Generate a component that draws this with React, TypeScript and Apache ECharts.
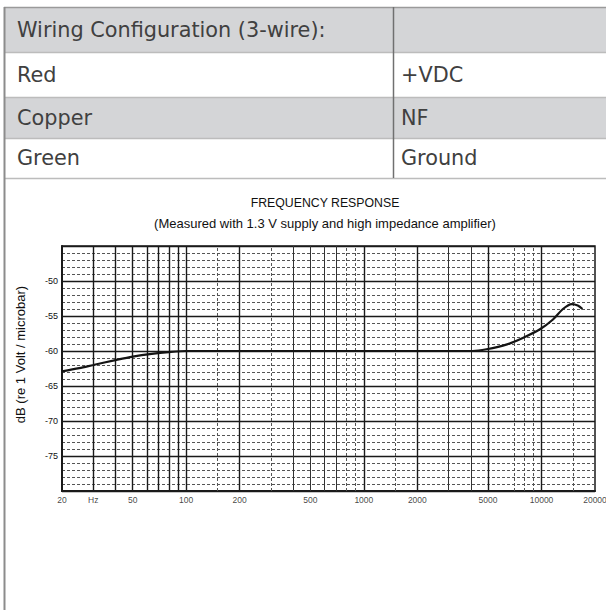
import React, { useEffect, useRef } from 'react';
import * as echarts from 'echarts';

// ---------- data ----------
const tableHeader = ['Wiring Configuration (3-wire):', ''];
const wireNames = ['Red', 'Copper', 'Green'];
const wireSignals = ['+VDC', 'NF', 'Ground'];

const chartTitle = 'FREQUENCY RESPONSE';
const chartSubtitle = '(Measured with 1.3 V supply and high impedance amplifier)';
const yAxisTitle = 'dB (re 1 Volt / microbar)';

const freqHz = [20, 25, 30, 40, 50, 64, 80, 100, 200, 500, 1000, 2000, 3000, 4100, 4900, 6400, 7900, 9800, 11600, 13200, 14800, 16000, 17000];
const responseDb = [-62.9, -62.45, -62.0, -61.3, -60.8, -60.4, -60.15, -60, -60, -60, -60, -60, -60, -60, -59.75, -59.05, -58.1, -56.9, -55.5, -54.0, -53.3, -53.5, -54.0];

const xTickValues = [20, 30, 50, 100, 200, 500, 1000, 2000, 5000, 10000, 20000];
const xTickLabels = ['20', 'Hz', '50', '100', '200', '500', '1000', '2000', '5000', '10000', '20000'];
const xMin = 20;
const xMax = 20000;
const yMin = -80;
const yMax = -45;
const yStep = 5;

const heavyGridHz = [30, 40, 50, 60, 70, 80, 90, 100, 200, 1000, 2000, 5000, 10000];
const solidGridHz = [400, 500, 600, 700, 3000, 4000];
const dashedGridHz = [150, 300, 800, 900, 1500, 7000, 8000, 9000, 15000];

// ---------- layout ----------
const W = 606;
const H = 610;
const TABLE = { left: 4, colX: 393, rowY: [7, 52, 97, 138, 178], textL: 17, textR: 401 };
const TABLE_FONT = '"DejaVu Sans", "Open Sans", sans-serif';
const CHART_FONT = '"Liberation Sans", Arial, sans-serif';
const INK = '#1a1a1a';

function buildTableGraphics() {
  const rows = [tableHeader, ...wireNames.map((n, i) => [n, wireSignals[i]])];
  const els: any[] = [];
  const { rowY } = TABLE;
  rows.forEach((r, i) => {
    const y0 = rowY[i];
    const y1 = rowY[i + 1];
    els.push({
      type: 'rect',
      silent: true,
      shape: { x: TABLE.left, y: y0, width: W - TABLE.left, height: y1 - y0 },
      style: { fill: i % 2 === 0 ? '#d4d5d7' : '#ffffff' },
      z: 0,
    });
    els.push({
      type: 'text',
      silent: true,
      x: TABLE.textL,
      y: (y0 + y1) / 2,
      style: { text: r[0], font: `20.8px ${TABLE_FONT}`, fill: '#404040', verticalAlign: 'middle', align: 'left' },
      z: 2,
    });
    if (r[1]) {
      els.push({
        type: 'text',
        silent: true,
        x: TABLE.textR,
        y: (y0 + y1) / 2,
        style: { text: r[1], font: `20.8px ${TABLE_FONT}`, fill: '#404040', verticalAlign: 'middle', align: 'left' },
        z: 2,
      });
    }
  });
  rowY.slice(1).forEach((y) => {
    els.push({
      type: 'line',
      silent: true,
      shape: { x1: TABLE.left, y1: y + 0.5, x2: W, y2: y + 0.5 },
      style: { stroke: '#bcbcbc', lineWidth: 1.5 },
      z: 1,
    });
  });
  els.push({
    type: 'line',
    silent: true,
    shape: { x1: TABLE.left, y1: rowY[0] + 0.5, x2: W, y2: rowY[0] + 0.5 },
    style: { stroke: '#9a9a9a', lineWidth: 1.5 },
    z: 1,
  });
  els.push({
    type: 'line',
    silent: true,
    shape: { x1: TABLE.colX + 0.5, y1: rowY[0], x2: TABLE.colX + 0.5, y2: rowY[rowY.length - 1] },
    style: { stroke: '#707070', lineWidth: 1.5 },
    z: 1,
  });
  els.push({
    type: 'line',
    silent: true,
    shape: { x1: TABLE.left + 0.5, y1: rowY[0], x2: TABLE.left + 0.5, y2: H },
    style: { stroke: '#8c8c8c', lineWidth: 2 },
    z: 1,
  });
  return els;
}

function vLine(v: number, width: number, type: any, color: string) {
  return { xAxis: v, lineStyle: { color, width, type } };
}

export default function App() {
  const ref = useRef<HTMLDivElement>(null);

  useEffect(() => {
    if (!ref.current) return;
    const chart = echarts.init(ref.current, undefined, { renderer: 'svg' });

    const gridLines = [
      ...heavyGridHz.map((v) => vLine(v, 1.4, 'solid', INK)),
      ...solidGridHz.map((v) => vLine(v, 1, 'solid', '#333')),
      ...dashedGridHz.map((v) => vLine(v, 1, [3, 2], '#555')),
    ];

    const option: any = {
      animation: false,
      backgroundColor: '#ffffff',
      title: [
        {
          text: chartTitle,
          left: 320,
          top: 192,
          textAlign: 'center',
          textStyle: { fontFamily: CHART_FONT, fontSize: 12.3, fontWeight: 'normal', color: '#111' },
        },
        {
          text: chartSubtitle,
          left: 320,
          top: 212,
          textAlign: 'center',
          textStyle: { fontFamily: CHART_FONT, fontSize: 13, fontWeight: 'normal', color: '#111' },
        },
      ],
      grid: {
        left: 62,
        right: 11,
        top: 246,
        bottom: 119,
        show: true,
        borderColor: INK,
        borderWidth: 1.5,
        backgroundColor: 'transparent',
      },
      xAxis: {
        type: 'log',
        logBase: 10,
        min: xMin,
        max: xMax,
        axisLine: { show: true, onZero: false, lineStyle: { color: INK, width: 2 } },
        axisTick: { show: false },
        axisLabel: { show: false },
        splitLine: { show: false },
        minorSplitLine: { show: false },
      },
      yAxis: {
        type: 'value',
        min: yMin,
        max: yMax,
        interval: yStep,
        name: yAxisTitle,
        nameLocation: 'middle',
        nameGap: 35,
        nameTextStyle: { fontFamily: CHART_FONT, fontSize: 13, color: '#111', padding: [0, 0, 0, 28] },
        axisLine: { show: true, onZero: false, lineStyle: { color: INK, width: 2 } },
        axisTick: { show: false },
        axisLabel: {
          fontFamily: CHART_FONT,
          fontSize: 9,
          color: '#111',
          margin: 4,
          showMinLabel: false,
          showMaxLabel: false,
        },
        splitLine: { show: true, lineStyle: { color: INK, width: 1.3 } },
        minorTick: { show: false, splitNumber: 5 },
        minorSplitLine: { show: true, lineStyle: { color: '#555', width: 1, type: [3, 2] } },
      },
      graphic: buildTableGraphics(),
      series: [
        {
          type: 'scatter',
          name: 'ticks',
          symbolSize: 1,
          itemStyle: { color: 'rgba(0,0,0,0)' },
          clip: false,
          z: 1,
          data: xTickValues.map((v, i) => ({
            value: [v, yMin],
            label: { formatter: xTickLabels[i] },
          })),
          label: {
            show: true,
            position: 'bottom',
            distance: 4,
            fontFamily: CHART_FONT,
            fontSize: 8.5,
            color: '#111',
          },
          markLine: {
            silent: true,
            symbol: ['none', 'none'],
            label: { show: false },
            data: gridLines,
          },
        },
        {
          type: 'line',
          name: 'Frequency response',
          data: freqHz.map((f, i) => [f, responseDb[i]]),
          smooth: 0.3,
          showSymbol: false,
          z: 5,
          lineStyle: { color: '#141414', width: 2.2 },
        },
      ],
    };

    chart.setOption(option);
    return () => chart.dispose();
  }, []);

  return (
    <div
      ref={ref}
      style={{ position: 'absolute', left: 0, top: 0, width: W, height: H, background: '#fff' }}
    />
  );
}
